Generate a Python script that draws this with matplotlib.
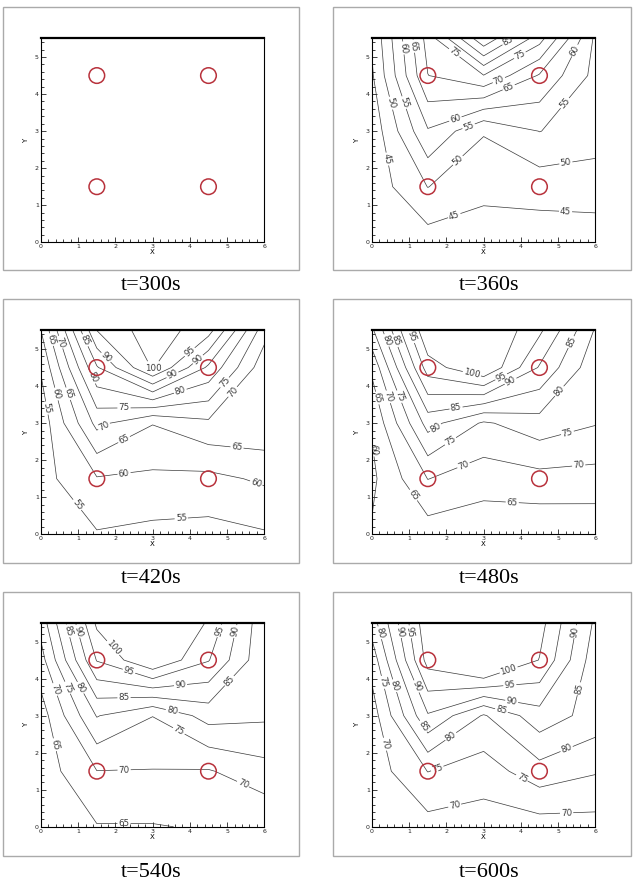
import matplotlib
matplotlib.use("Agg")
import matplotlib.pyplot as plt
from matplotlib.patches import Circle, Rectangle
from matplotlib.ticker import MultipleLocator
import numpy as np

# grid nodes of the room (m)
x_nodes = [0.0, 1.5, 3.0, 4.5, 6.0]
y_nodes = [0.0, 1.5, 3.0, 4.5, 5.5]

# circles (sources) positions
circle_x = [1.5, 4.5, 1.5, 4.5]
circle_y = [1.5, 1.5, 4.5, 4.5]

captions = ['t=300s', 't=360s', 't=420s', 't=480s', 't=540s', 't=600s']

# temperature at grid nodes, one row per y node (bottom -> top)
temp_300 = [[30.0, 30.0, 30.0, 30.0, 30.0],
            [30.0, 30.0, 30.0, 30.0, 30.0],
            [30.0, 30.0, 30.0, 30.0, 30.0],
            [30.0, 30.0, 30.0, 30.0, 30.0],
            [30.0, 30.0, 30.0, 30.0, 30.0]]

temp_360 = [[40.0, 42.6, 42.5, 42.0, 42.3],
            [42.0, 50.1, 46.3, 47.2, 47.4],
            [41.8, 59.5, 50.4, 55.1, 52.5],
            [44.4, 69.9, 74.8, 64.5, 53.5],
            [45.6, 72.0, 94.0, 77.0, 54.0]]

temp_420 = [[52.0, 54.6, 53.65, 53.3, 54.5],
            [53.2, 59.6, 59.0, 58.65, 60.8],
            [52.0, 71.5, 65.2, 69.0, 69.0],
            [55.5, 84.5, 100.5, 84.0, 66.8],
            [60.0, 95.0, 103.0, 97.0, 72.0]]

temp_480 = [[60.5, 62.45, 61.5, 61.0, 61.2],
            [59.0, 70.1, 67.3, 68.3, 68.1],
            [60.5, 82.0, 74.3, 78.0, 75.3],
            [66.0, 97.5, 105.0, 89.5, 76.5],
            [74.0, 105.0, 106.0, 96.0, 79.5]]

temp_540 = [[62.0, 64.7, 64.7, 65.5, 65.5],
            [62.3, 69.9, 69.8, 69.6, 73.1],
            [62.7, 80.3, 75.1, 82.0, 80.9],
            [68.0, 95.3, 105.0, 95.3, 81.0],
            [72.0, 101.0, 107.0, 99.5, 81.0]]

temp_600 = [[65.0, 68.1, 67.5, 67.6, 68.0],
            [67.3, 75.1, 72.5, 78.0, 75.45],
            [67.5, 89.5, 79.5, 88.0, 82.9],
            [72.0, 102.0, 110.0, 99.8, 82.0],
            [77.5, 104.0, 110.0, 102.0, 84.0]]

levels = [45, 50, 55, 60, 65, 70, 75, 80, 85, 90, 95, 100]

fields = [temp_300, temp_360, temp_420, temp_480, temp_540, temp_600]

# where the contour labels sit (styling only, the values come from the contours)
label_spots = [
    [],
    [(0.43, 2.25), (0.45, 3.74), (0.8, 3.75), (0.9, 5.25), (1.2, 5.3),
     (2.2, 0.75), (5.2, 0.82), (2.27, 2.25), (5.2, 2.2), (2.25, 3.3), (2.6, 3.12),
     (5.25, 3.7), (5.4, 5.2), (3.45, 4.28), (3.7, 4.12), (4.0, 5.0), (2.2, 5.1), (3.7, 5.35)],
    [(0.17, 3.41), (0.35, 3.77), (0.66, 3.77), (0.3, 5.26), (0.57, 5.2), (1.11, 5.2),
     (1.38, 4.23), (1.74, 4.77), (0.98, 0.8), (3.77, 0.4), (2.23, 1.66), (5.77, 1.34),
     (2.23, 2.56), (5.27, 2.38), (1.69, 2.92), (5.18, 3.82), (2.23, 3.41), (4.9, 4.13),
     (3.7, 4.0), (3.57, 4.22), (3.0, 4.5), (4.15, 4.8), (3.93, 5.0)],
    [(0.14, 2.29), (0.23, 3.7), (0.5, 3.73), (0.77, 3.73), (0.46, 5.26), (0.73, 5.26),
     (1.0, 5.3), (1.13, 1.07), (3.77, 0.89), (2.43, 1.93), (5.56, 1.79), (2.11, 2.51),
     (5.25, 2.74), (1.71, 2.87), (4.98, 3.91), (2.25, 3.46), (5.2, 5.26), (3.72, 4.14),
     (3.46, 4.27), (2.69, 4.36)],
    [(0.48, 2.24), (0.3, 3.68), (0.66, 3.73), (1.02, 3.73), (0.62, 5.26), (0.93, 5.26),
     (2.23, 0.13), (2.23, 1.66), (5.45, 1.2), (3.71, 2.6), (3.53, 3.14), (2.23, 3.5),
     (5.05, 3.95), (3.75, 3.82), (5.27, 5.26), (2.37, 4.22), (4.87, 5.26), (1.92, 4.81)],
    [(0.39, 2.24), (0.34, 3.91), (0.65, 3.82), (0.3, 5.26), (0.7, 5.26), (1.01, 5.26),
     (2.22, 0.58), (5.23, 0.35), (1.82, 1.39), (4.02, 1.3), (2.13, 2.42), (5.23, 2.1),
     (1.42, 2.74), (3.48, 3.14), (5.54, 3.73), (1.15, 3.77), (3.75, 3.37), (5.5, 5.26),
     (3.7, 3.86), (3.66, 4.27)],
]

W, H = 637, 888
fig = plt.figure(figsize=(W / 100, H / 100), dpi=100)

# layout in pixels (top-left origin)
box_cols = [(3, 299), (333, 631)]
box_rows = [(7, 270), (299, 563), (592, 856)]
ax_cols = [41, 372]
ax_rows = [38.5, 330.5, 623]
ax_w, ax_h = 223.3, 203.8
cap_x = [151, 489]
cap_y = [286, 578, 872]


def px_rect(x0, y0, x1, y1):
    return [x0 / W, 1 - y1 / H, (x1 - x0) / W, (y1 - y0) / H]


X, Y = np.meshgrid(x_nodes, y_nodes)

for i, field in enumerate(fields):
    r, c = i // 2, i % 2

    # gray frame of the table cell
    bx0, bx1 = box_cols[c]
    by0, by1 = box_rows[r]
    l, b, w, h = px_rect(bx0, by0, bx1, by1)
    fig.add_artist(Rectangle((l, b), w, h, transform=fig.transFigure,
                             fill=False, ec='#aaaaaa', lw=1.0))

    ax = fig.add_axes(px_rect(ax_cols[c], ax_rows[r],
                              ax_cols[c] + ax_w, ax_rows[r] + ax_h))
    ax.set_xlim(0, 6)
    ax.set_ylim(0, 5.5)

    Z = np.array(field)
    if np.ptp(Z) > 0:
        cs = ax.contour(X, Y, Z, levels=levels, colors='#3a3a3a', linewidths=0.5)
        ax.clabel(cs, fmt='%d', fontsize=6.3, inline=True, inline_spacing=1,
                  manual=label_spots[i])

    for cx, cy in zip(circle_x, circle_y):
        ax.add_patch(Circle((cx, cy), 0.21, fill=False, ec='#b8323c', lw=1.1, zorder=5))

    ax.xaxis.set_major_locator(MultipleLocator(1))
    ax.xaxis.set_minor_locator(MultipleLocator(0.2))
    ax.yaxis.set_major_locator(MultipleLocator(1))
    ax.yaxis.set_minor_locator(MultipleLocator(0.2))
    ax.tick_params(which='both', direction='in', top=False, right=False,
                   labelsize=4.5, pad=1.5, width=0.6, colors='#222222')
    ax.tick_params(which='major', length=3.5)
    ax.tick_params(which='minor', length=2)
    ax.set_xlabel('X', fontsize=5, labelpad=0)
    ax.set_ylabel('Y', fontsize=5, labelpad=4)
    for side, sp in ax.spines.items():
        sp.set_linewidth(1.6 if side == 'top' else 0.8)

    fig.text(cap_x[c] / W, 1 - cap_y[r] / H, captions[i], ha='center', va='center',
             family='Liberation Serif', fontsize=16)

fig.savefig('out.png', dpi=100)
